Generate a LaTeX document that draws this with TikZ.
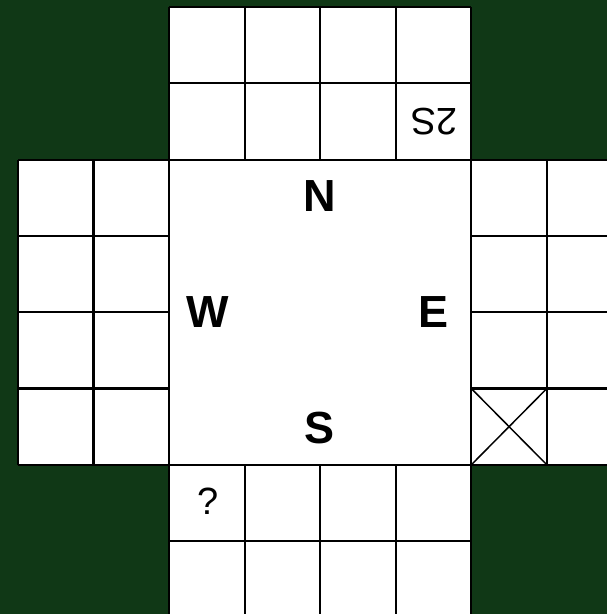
\documentclass[tikz,border=0pt]{standalone}
\usepackage{fontspec}
\setmainfont{Liberation Sans}
\definecolor{bggreen}{RGB}{16,56,22}
\begin{document}
\begin{tikzpicture}[
  gridline/.style={line width=2.2pt, black},
  bigletter/.style={font=\bfseries\fontsize{45}{45}\selectfont, inner sep=0pt},
  smalltext/.style={font=\fontsize{38}{38}\selectfont, inner sep=0pt}
]
\useasboundingbox (0pt,0pt) rectangle (607pt,-614pt);
\clip (0pt,0pt) rectangle (607pt,-614pt);
\fill[bggreen] (0pt,0pt) rectangle (607pt,-614pt);
\begin{scope}[shift={(18pt,-7pt)}, x=75.55pt, y=-76.3pt]
  % white regions
  \fill[white] (2,0) rectangle (6,8);
  \fill[white] (0,2) rectangle (8,6);
  % top grid
  \foreach \i in {2,...,6} \draw[gridline] (\i,0) -- (\i,2);
  \foreach \j in {0,1,2} \draw[gridline] (2,\j) -- (6,\j);
  % bottom grid
  \foreach \i in {2,...,6} \draw[gridline] (\i,6) -- (\i,8);
  \foreach \j in {6,7,8} \draw[gridline] (2,\j) -- (6,\j);
  % left grid
  \foreach \i in {0,1,2} \draw[gridline] (\i,2) -- (\i,6);
  \foreach \j in {2,...,6} \draw[gridline] (0,\j) -- (2,\j);
  % right grid
  \foreach \i in {6,7,8} \draw[gridline] (\i,2) -- (\i,6);
  \foreach \j in {2,...,6} \draw[gridline] (6,\j) -- (8,\j);
  % cross
  \draw[line width=1.5pt] (6,5) -- (7,6);
  \draw[line width=1.5pt] (6,6) -- (7,5);
\end{scope}
\node[bigletter] (n) at (320pt,-196pt) {N};
\node[bigletter] (w) at (208pt,-312pt) {W};
\node[bigletter] (e) at (434pt,-312pt) {E};
\node[bigletter] (s) at (320pt,-428pt) {S};
\node[smalltext, rotate=180] (t2s) at (434pt,-122pt) {2S};
\node[smalltext] (q) at (208pt,-501pt) {?};
\end{tikzpicture}
\end{document}
